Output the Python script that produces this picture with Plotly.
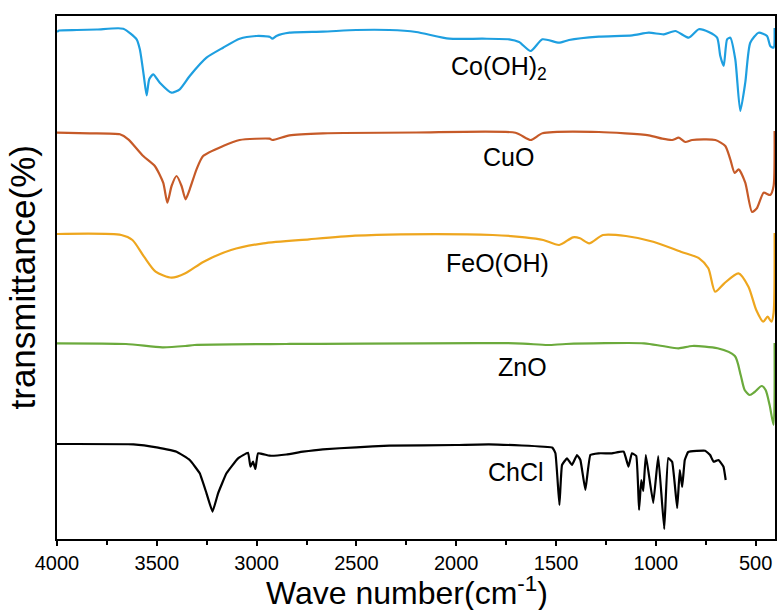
import plotly.graph_objects as go

# ---- data (wavenumber in cm^-1, offset transmittance in arbitrary units) ----
co_w = [4000, 3990, 3900, 3800, 3668, 3601, 3585, 3565, 3551, 3538, 3518, 3485, 3426, 3385, 3335,
        3251, 3168, 3085, 3001, 2935, 2921, 2901, 2835, 2668, 2501, 2335, 2201, 2035, 1868, 1735,
        1685, 1627, 1568, 1485, 1435, 1285, 1118, 1035, 960, 902, 835, 785, 735, 693, 677, 660,
        643, 627, 602, 577, 552, 527, 485, 443, 427, 410, 405]
co_t = [507, 508.5, 509, 509.5, 510.3, 499.7, 489.7, 463, 443.7, 459.7, 464.7, 456.3, 446.3, 449.7, 463,
        481.3, 491.3, 500.3, 503, 502.3, 500.3, 503, 506.3, 507.3, 509, 509, 507, 500.3, 500.3, 499.7,
        497, 488, 499.7, 496.3, 499, 502.3, 503.7, 506.3, 504.7, 508, 501.3, 509.7, 507, 501.3, 483, 473,
        499.7, 501.3, 479.7, 428, 456.3, 496.3, 506.3, 503, 493, 491.3, 511]

cu_w = [4000, 3835, 3685, 3643, 3568, 3510, 3468, 3447, 3426, 3401, 3376, 3356, 3335, 3301, 3268,
        3168, 3085, 2935, 2921, 2835, 2668, 2201, 1703, 1627, 1568, 1285, 1035, 968, 918, 885, 852,
        818, 702, 652, 627, 605, 585, 552, 518, 493, 460, 427, 410, 405]
cu_t = [406.3, 405.7, 404.7, 399.7, 383, 373, 356.3, 336.3, 353, 363, 353, 339.7, 349.7, 369.7, 383,
        393, 399, 400.3, 399, 403.7, 405.7, 406.5, 406.3, 399, 405.7, 407, 403.7, 400.3, 399, 401.3, 397,
        399, 399, 393, 379.7, 366, 369.7, 356.3, 327, 331, 346.3, 344, 353, 408]

fe_w = [4000, 3678, 3622, 3564, 3506, 3426, 3357, 3265, 3128, 2966, 2737, 2507, 2277, 1817, 1656,
        1564, 1484, 1415, 1380, 1334, 1265, 1150, 1013, 875, 783, 737, 703, 657, 586, 536, 497,
        462, 440, 421, 410, 405]
fe_t = [305, 304, 299, 282.3, 267.3, 261.3, 265.7, 277.3, 289, 295.7, 299.7, 303.3, 304.7, 304, 301.7,
        299, 294, 301.7, 300.7, 295.7, 304, 303, 297.3, 287.3, 280.7, 270.7, 247.3, 255.7, 265.7, 252.3, 229,
        217.3, 222.3, 217.3, 226, 306]

zn_w = [4000, 3655, 3472, 3357, 3311, 2852, 1702, 1542, 1450, 1059, 967, 886, 817, 691, 604,
        575, 555, 530, 505, 470, 450, 430, 410, 405]
zn_t = [195.7, 195, 191.7, 193, 194, 195, 195.7, 194, 195, 195.7, 193, 190.7, 193, 190.7, 183,
        164, 149, 144, 147, 153, 149, 134, 114, 196]

ch_w = [4000, 3617, 3501, 3401, 3335, 3285, 3251, 3221, 3193, 3151, 3093, 3043, 3031, 3018, 3006,
        2993, 2935, 2851, 2768, 2668, 2501, 2335, 2001, 1836, 1518, 1503, 1483, 1470, 1445, 1420,
        1395, 1378, 1353, 1328, 1287, 1220, 1161, 1137, 1120, 1098, 1084, 1073, 1063, 1050, 1013,
        988, 958, 938, 918, 893, 880, 868, 855, 838, 753, 728, 711, 686, 661, 650]
ch_t = [95, 94.7, 91.7, 87.3, 79, 65.7, 45.7, 27.3, 45.7, 65.7, 80.7, 86.3, 72.3, 77.3, 70,
        85.7, 83.3, 84.5, 87.3, 89.7, 91.7, 93.3, 94, 94.7, 91.3, 85.7, 34, 74, 80.7, 74,
        84, 79, 49, 84, 85.7, 85.7, 87.3, 72.3, 85.7, 83, 29, 59, 48, 84, 36,
        83, 10, 81, 77, 31, 69, 52, 79, 87, 88.3, 84, 77.3, 79, 72.3, 59]

names = ["Co(OH)<sub>2</sub>", "CuO", "FeO(OH)", "ZnO", "ChCl"]
colors = ["#1E9FE0", "#C65A28", "#EEA61E", "#6BAA3C", "#000000"]
label_w = [1787, 1736, 1794, 1669, 1699]
label_t = [471, 382, 276, 172, 67]
tick_vals = [4000, 3500, 3000, 2500, 2000, 1500, 1000, 500]
tick_text = ["4000", "3500", "3000", "2500", "2000", "1500", "1000", "500"]

series = [(co_w, co_t), (cu_w, cu_t), (fe_w, fe_t), (zn_w, zn_t), (ch_w, ch_t)]
smooth = [0.6, 0.6, 0.7, 0.7, 0.3]

fig = go.Figure()
for (w, t), name, c, s in zip(series, names, colors, smooth):
    fig.add_trace(go.Scatter(x=w, y=t, mode="lines", name=name,
                             line=dict(color=c, width=2.2, shape="spline", smoothing=s),
                             showlegend=False))

FONT = "Liberation Sans, Arial, sans-serif"
annotations = []
for name, lw, lt in zip(names, label_w, label_t):
    annotations.append(dict(x=lw, y=lt, xref="x", yref="y", text=name, showarrow=False,
                            font=dict(family=FONT, size=25, color="black"),
                            xanchor="center", yanchor="middle"))
annotations.append(dict(x=0.4875, y=0, xref="paper", yref="paper",
                        text="Wave number(cm<sup>-1</sup>)", showarrow=False,
                        xanchor="center", yanchor="middle", yshift=-52,
                        font=dict(family=FONT, size=32, color="black")))
annotations.append(dict(x=0, y=0.5, xref="paper", yref="paper",
                        text="transmittance(%)", showarrow=False, textangle=-90,
                        xanchor="center", yanchor="middle", xshift=-35,
                        font=dict(family=FONT, size=35, color="black")))

fig.update_layout(
    width=778, height=610,
    margin=dict(l=57, r=1, t=16, b=71, pad=0),
    paper_bgcolor="white", plot_bgcolor="white",
    font=dict(family=FONT, color="black"),
    annotations=annotations,
    xaxis=dict(range=[4000, 403], tickvals=tick_vals, ticktext=tick_text,
               ticks="outside", ticklen=5, tickwidth=1.5, tickcolor="black",
               minor=dict(dtick=250, tick0=0, ticks="outside", ticklen=4, tickwidth=1.5, tickcolor="black"),
               showline=True, mirror=True, linecolor="black", linewidth=1.5,
               showgrid=False, zeroline=False, tickfont=dict(size=20, family=FONT, color="black")),
    yaxis=dict(range=[0, 523], showticklabels=False, ticks="",
               showline=True, mirror=True, linecolor="black", linewidth=1.5,
               showgrid=False, zeroline=False),
)

fig.write_html("out.html", config={"displayModeBar": False},
               post_script="document.body.style.margin='0';document.body.style.overflow='hidden';")
